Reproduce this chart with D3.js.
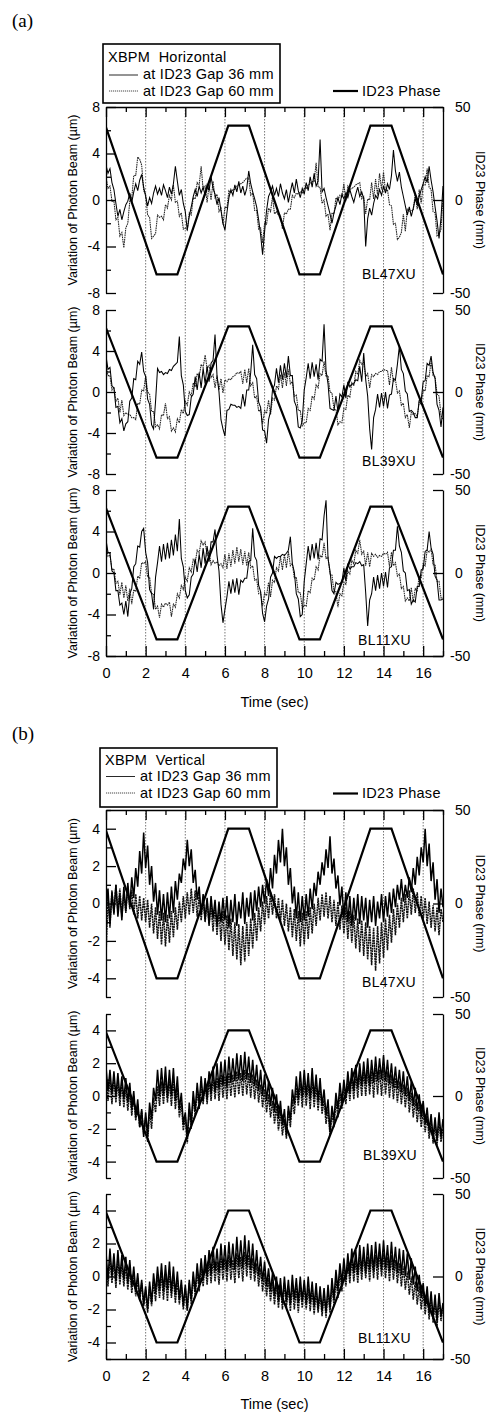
<!DOCTYPE html>
<html><head><meta charset="utf-8">
<script src="https://cdn.jsdelivr.net/npm/d3@7"></script>
<style>
html,body{margin:0;padding:0;background:#fff;}
svg{display:block;font-family:"Liberation Sans",Arial,Helvetica,sans-serif;}
</style></head><body>
<svg id="chart" width="488" height="1414"></svg>
<script>
// ---------------- DATA ----------------
const TIME_STEP = 0.1;          // sample spacing of the XBPM records (s)
const TIME_DOMAIN = [0, 17];
const X_TICKS_MAJOR = [0, 2, 4, 6, 8, 10, 12, 14, 16];
const X_TICKS_MINOR = [1, 3, 5, 7, 9, 11, 13, 15, 17];
const GRID_TIMES = [2, 4, 6, 8, 10, 12, 14, 16];
const PHASE_T = [0, 2.55, 3.6, 6.17, 7.21, 9.76, 10.79, 13.34, 14.4, 17];
const PHASE_V = [39, -40, -40, 40, 40, -40, -40, 40, 40, -40];
const PHASE_TICKS = [-50, 0, 50];
const H_Y_MAJOR = [-8, -4, 0, 4, 8];
const H_Y_MINOR = [-6, -2, 2, 6];
const V_Y_MAJOR = [-4, -2, 0, 2, 4];
const V_Y_MINOR = [-5, -3, -1, 1, 3, 5];
const BEAMLINES = ["BL47XU", "BL39XU", "BL11XU"];

// Horizontal, BL47XU
const A1_36 = [
3.0,2.3,2.7,1.5,0.9,-0.3,-1.4,-0.8,-1.7,-1.0,
-0.4,-0.1,0.6,-0.2,0.7,1.4,0.8,1.7,2.2,1.1,
0.3,-0.5,0.2,-0.3,0.6,1.2,0.5,1.0,0.4,1.3,
0.8,0.2,1.1,0.5,1.4,2.9,1.6,0.4,0.9,-0.3,
-1.0,-2.6,-1.4,-0.6,0.3,0.9,0.3,1.2,0.6,1.1,
0.4,1.3,0.8,2.0,1.0,0.5,-0.4,0.2,-0.9,-2.0,
-2.6,-1.1,0.2,0.9,0.4,1.3,0.7,1.6,0.6,1.2,
0.4,1.0,2.5,1.4,0.7,0.1,-0.6,-1.7,-3.0,-4.7,
-2.7,-0.9,0.3,0.7,1.2,0.4,1.0,0.3,1.4,0.6,
0.1,0.9,-0.2,0.7,1.5,0.6,1.8,0.8,0.2,1.0,
0.5,1.5,0.8,2.0,1.1,2.3,1.2,1.6,5.2,0.7,
1.0,0.2,-0.5,-1.2,-2.0,-1.1,-0.5,0.2,-0.4,0.5,
0.1,0.6,0.2,0.9,0.3,-0.2,0.5,1.1,0.3,0.7,
0.1,-4.0,-1.6,-0.7,-1.3,-0.3,0.4,0.1,0.9,0.4,
1.2,0.6,1.4,0.9,2.1,4.3,2.5,1.6,2.4,1.1,
0.3,-0.5,-1.3,-0.6,-1.4,-0.7,0.1,-0.4,0.3,0.9,
1.4,2.0,1.5,2.9,1.7,0.7,-0.6,-1.8,-3.3,-1.5,
1.2];
const A1_60 = [
2.0,1.0,1.2,-0.1,-0.1,-1.7,-1.5,-3.1,-2.8,-4.1,
-2.4,-2.0,-0.1,0.2,2.1,2.1,3.7,3.5,3.0,0.8,
0.5,-1.3,-1.5,-3.3,-3.1,-2.9,-1.3,-1.5,-1.4,-1.7,
-0.4,-0.7,0.4,0.0,1.3,-0.2,-0.1,-1.4,-1.1,-2.5,
-2.4,-2.6,-1.1,-1.3,0.2,0.1,1.5,1.3,2.9,0.9,
1.2,-0.2,1.3,0.0,1.6,0.2,0.5,-1.0,-0.7,-2.1,
-0.6,-0.7,0.8,0.6,0.9,0.9,1.2,1.3,1.4,1.5,
1.7,1.9,1.9,0.4,0.6,-0.9,-0.9,-2.5,-2.4,-3.7,
-2.0,-2.1,-0.7,-1.0,0.3,-1.2,-1.0,-1.3,-1.3,-2.5,
-1.1,-1.2,-0.8,-0.8,0.4,0.2,0.6,0.5,0.7,0.6,
1.0,1.0,1.3,1.4,1.6,1.6,3.2,1.1,1.1,-0.3,
0.0,-1.4,-1.2,-2.6,-1.1,-1.2,0.2,0.0,0.4,0.2,
1.4,-0.1,1.2,0.9,1.0,1.1,1.3,1.4,1.5,0.1,
0.3,-1.2,0.1,0.0,1.5,0.1,1.8,0.4,2.3,0.9,
2.4,0.7,0.9,-0.4,-0.5,-2.1,-2.0,-3.4,-3.2,-2.8,
-1.2,-2.7,-0.8,-1.0,-0.9,-0.9,0.6,-0.8,0.9,-0.3,
1.3,1.3,2.7,1.1,0.9,-1.0,-1.1,-3.1,-3.0,-2.5,
0.3];
// Horizontal, BL39XU
const A2_36 = [
3.5,2.2,2.4,0.6,0.4,-1.5,-1.4,-3.0,-2.6,-3.8,
-3.1,-2.9,-0.9,-0.6,1.3,1.2,3.0,2.7,3.9,2.0,
1.5,-0.7,-1.2,-3.2,-3.6,-0.9,2.3,1.9,2.0,1.7,
1.9,1.8,2.2,2.1,2.5,2.7,2.9,5.4,1.6,0.7,
-1.9,-2.3,-2.2,-0.5,-0.2,1.5,0.2,1.9,0.4,2.3,
0.8,2.5,1.0,2.8,3.1,5.6,1.6,0.0,-2.7,-3.6,
-4.3,-1.8,-1.7,-1.2,-1.3,-1.3,-1.5,-1.4,-1.6,-0.2,
-1.4,0.2,0.2,1.9,4.6,1.7,1.3,-1.0,-1.5,-3.7,
-3.8,-5.0,-2.7,-1.9,0.2,0.7,2.3,0.9,2.6,1.2,
2.8,1.4,3.5,1.6,1.6,-0.9,-1.4,-3.4,-3.5,-2.8,
0.2,1.4,2.8,1.3,2.9,1.5,2.7,1.2,3.2,3.0,
6.6,2.1,0.8,-1.6,-1.7,-1.8,-0.4,-1.9,-0.2,-0.5,
0.7,-0.6,1.0,0.5,0.8,0.8,1.2,1.1,2.5,1.0,
3.8,1.2,-0.4,-3.6,-5.6,-2.5,-1.7,-0.2,-1.5,-0.1,
-1.4,0.0,-1.6,-0.3,-0.2,1.3,1.2,2.7,4.5,2.2,
1.8,0.1,-0.2,-1.9,-1.8,-2.0,-2.5,-2.5,-0.8,-0.8,
1.0,1.1,2.8,2.6,3.5,1.9,1.3,-1.2,-1.8,-3.4,
-1.5];
const A2_60 = [
2.5,1.6,1.6,0.2,0.5,-0.9,-0.6,-2.0,-0.8,-2.3,
-2.0,-2.2,-2.2,-2.5,-2.5,-2.7,-1.1,-1.2,0.2,0.1,
1.6,0.0,-0.2,-1.9,-1.9,-3.4,-3.2,-3.6,-2.2,-2.3,
-1.1,-2.6,-2.4,-3.8,-3.5,-3.9,-2.6,-3.0,-1.7,-2.1,
-0.9,-1.3,0.0,-0.4,0.9,0.5,1.8,1.5,2.7,2.4,
3.6,2.3,2.6,1.4,1.7,0.4,1.6,0.2,1.3,-0.1,
1.2,1.0,1.3,1.2,1.5,1.6,1.9,1.8,2.0,0.8,
2.2,0.9,2.3,0.6,0.9,-0.6,-0.4,-1.9,-1.7,-3.1,
-1.8,-2.1,-0.8,-2.2,-0.6,-0.8,0.6,0.3,1.7,0.4,
1.9,0.6,2.2,0.8,1.0,-0.4,-0.3,-1.8,-1.8,-3.3,
-3.0,-3.0,-1.6,-1.8,-0.4,-0.7,0.7,0.4,1.8,1.6,
3.0,1.5,1.6,0.0,-0.1,-1.7,-1.7,-3.2,-2.9,-3.0,
-1.6,-1.7,-0.3,-0.5,0.9,0.6,2.0,1.7,3.1,2.7,
2.9,1.5,1.8,0.4,1.7,1.5,1.8,1.7,2.0,2.0,
2.2,2.1,2.1,0.7,2.4,1.0,1.2,-0.1,0.1,-1.3,
-1.1,-2.5,-2.2,-3.5,-2.0,-2.2,-2.1,-2.4,-1.0,-1.2,
0.2,0.1,1.6,1.5,3.0,1.6,1.5,-0.2,-0.4,-2.3,
-2.7];
// Horizontal, BL11XU
const A3_36 = [
3.2,2.0,1.9,0.2,0.0,-1.7,-1.7,-3.1,-2.9,-4.0,
-2.7,-4.2,-2.0,-1.5,0.6,0.9,2.6,2.5,4.0,4.3,
2.0,1.0,-1.6,-2.0,-3.5,-0.4,1.0,2.6,1.1,2.8,
1.3,2.9,1.4,3.2,1.7,3.7,2.1,5.2,1.4,0.6,
-1.7,-2.4,-2.1,-0.4,-0.1,1.4,0.1,1.8,0.5,2.4,
0.9,2.6,1.1,3.0,3.0,4.2,1.7,0.2,-3.0,-4.8,
-3.5,-2.3,-0.8,-2.0,-0.6,-1.9,-0.5,-2.1,-0.7,-0.9,
-0.5,-0.5,1.1,1.2,4.3,1.6,1.2,-1.2,-1.8,-3.9,
-4.7,-3.2,-2.5,-0.4,0.0,1.6,1.4,1.6,1.6,1.8,
1.7,1.9,2.2,3.5,0.9,0.1,-2.0,-2.5,-4.2,-4.0,
-0.8,0.9,2.6,1.2,2.8,1.4,2.9,1.3,3.3,3.2,
5.5,7.0,1.4,0.2,-1.7,-2.0,-0.9,-1.1,-1.0,-0.9,
0.5,-0.8,0.9,0.4,0.6,0.6,1.0,0.9,1.1,0.7,
0.8,-1.9,-5.1,-2.6,-2.0,-0.4,-1.7,-0.2,-1.5,0.0,
-1.3,0.1,-1.4,0.5,0.6,2.2,2.2,4.5,2.6,2.0,
0.2,0.0,-1.7,-1.6,-3.0,-2.6,-2.8,-1.3,-1.3,0.3,
0.4,2.1,2.2,4.0,2.4,1.8,-0.3,-0.7,-2.6,-2.6,
-2.5];
const A3_60 = [
2.6,1.6,1.7,0.3,0.4,-1.0,-0.8,-2.1,-0.9,-2.4,
-1.2,-2.7,-1.5,-3.0,-1.6,-1.8,-0.3,-0.5,1.0,0.9,
1.1,-0.4,-0.4,-2.0,-2.0,-3.5,-3.2,-4.3,-3.0,-3.3,
-2.9,-3.1,-2.8,-4.2,-3.0,-3.3,-2.0,-2.4,-1.2,-1.6,
-0.4,-0.8,0.5,0.1,1.3,1.0,2.2,1.9,3.1,2.7,
3.0,1.7,2.1,0.8,1.2,0.9,1.1,0.7,0.9,0.5,
1.8,0.4,1.9,0.6,2.2,0.9,2.5,1.1,2.3,0.8,
2.1,0.7,2.0,0.5,0.7,-0.7,-0.6,-2.0,-1.9,-3.2,
-1.9,-2.2,-0.9,-2.3,-0.7,-0.9,0.5,0.2,1.6,0.3,
1.8,0.5,2.1,0.7,0.9,-0.5,-0.4,-1.9,-1.9,-3.4,
-3.1,-3.2,-1.7,-1.9,-0.5,-0.7,0.6,0.3,1.7,1.5,
2.9,1.4,1.5,-0.1,-0.2,-1.8,-1.8,-3.3,-2.0,-2.2,
-0.9,-1.1,0.2,-0.1,1.2,0.9,2.2,1.9,3.2,1.8,
2.1,0.7,2.0,0.6,1.9,1.6,1.8,1.5,1.7,1.6,
1.9,1.8,2.0,0.6,2.0,0.7,1.0,-0.3,-0.1,-1.5,
-1.3,-2.7,-2.4,-2.7,-1.4,-2.8,-1.5,-1.7,-0.3,-0.5,
0.9,0.7,2.2,2.0,2.3,0.8,0.8,-0.8,-0.8,-2.4,
-2.4];
// Vertical, BL47XU
const B1_36 = [
-0.2,0.8,-1.1,0.6,-0.5,1.0,-0.7,0.5,-0.9,0.9,
-0.4,1.1,-0.2,1.4,0.3,1.9,0.9,2.8,1.6,3.8,
1.9,3.1,1.0,2.0,0.1,1.1,-0.6,0.7,-0.9,0.5,
-1.0,0.6,-0.8,0.9,-0.5,1.2,0.2,1.6,1.1,2.4,
1.8,3.4,2.0,2.9,1.1,1.8,0.2,0.9,-0.6,0.5,
-0.9,0.3,-1.1,0.4,-0.8,0.2,-1.2,0.1,-1.0,0.3,
-0.9,0.4,-1.3,0.2,-1.0,0.5,-1.2,0.1,-0.8,0.6,
-1.1,0.3,-0.7,0.6,-0.9,0.7,-0.4,0.9,-0.2,1.0,
0.0,1.3,0.4,1.9,0.8,2.6,1.6,3.4,2.2,4.0,
2.0,3.0,1.0,1.9,0.0,0.9,-0.8,0.6,-1.0,0.4,
-0.9,0.5,-0.7,0.8,-0.3,1.1,0.4,1.7,1.0,2.2,
1.5,2.9,1.9,3.6,1.6,2.4,0.8,1.5,-0.1,0.9,
-0.8,0.6,-1.0,0.4,-1.2,0.3,-0.9,0.5,-1.1,0.4,
-0.9,0.3,-1.3,0.2,-1.0,0.4,-1.2,0.1,-0.8,0.5,
-1.0,0.4,-0.7,0.6,-0.5,0.8,-0.2,1.0,0.2,1.3,
0.1,1.0,0.3,1.4,0.6,1.9,1.0,2.5,1.5,3.0,
2.2,4.0,2.0,3.2,1.2,2.2,0.2,1.3,-0.5,0.8,
-0.2];
const B1_60 = [
-2.8,0.4,-1.3,0.7,-0.6,1.0,-0.4,0.8,-0.7,0.6,
-0.5,0.9,-0.3,0.7,-0.6,0.5,-0.8,0.4,-0.9,0.3,
-1.0,0.2,-1.3,0.0,-1.6,-0.2,-1.9,-0.4,-2.2,-0.5,
-2.3,-0.6,-2.1,-0.4,-1.8,-0.2,-1.4,0.1,-1.0,0.4,
-0.8,0.6,-0.6,0.8,-0.5,0.7,-0.7,0.5,-0.9,0.3,
-1.0,0.2,-1.2,0.0,-1.5,-0.1,-1.7,-0.3,-2.0,-0.4,
-2.2,-0.6,-2.5,-0.8,-2.8,-1.0,-3.0,-1.1,-3.3,-1.2,
-3.1,-1.0,-2.8,-0.8,-2.4,-0.5,-2.0,-0.2,-1.5,0.1,
-1.1,0.4,-0.8,0.6,-0.6,0.5,-0.8,0.3,-1.0,0.2,
-1.2,0.0,-1.5,-0.2,-1.8,-0.3,-2.0,-0.4,-2.3,-0.5,
-2.2,-0.4,-1.9,-0.2,-1.6,0.0,-1.2,0.3,-0.9,0.5,
-0.7,0.6,-0.8,0.4,-1.0,0.2,-1.2,0.1,-1.4,-0.1,
-1.6,-0.2,-1.9,-0.4,-2.1,-0.6,-2.4,-0.8,-2.6,-0.9,
-2.8,-1.0,-3.0,-1.2,-3.3,-1.3,-3.6,-1.2,-3.2,-1.0,
-2.9,-0.8,-2.5,-0.6,-2.1,-0.3,-1.7,0.0,-1.3,0.3,
-1.0,0.5,-0.8,0.7,-0.6,0.8,-0.5,0.6,-0.7,0.4,
-0.9,0.3,-1.1,0.1,-1.3,-0.1,-1.5,-0.2,-1.7,-0.3,
-1.0];
// Vertical, BL39XU
const B2_36 = [
1.8,0.3,1.6,0.1,1.5,0.0,1.4,-0.1,1.2,-0.2,
1.1,-0.4,0.8,-0.8,0.3,-1.3,-0.2,-1.9,-0.8,-2.5,
-1.0,-2.4,-0.4,-1.4,0.5,-0.3,1.6,0.0,1.7,0.1,
1.8,-0.1,1.6,0.0,1.7,-0.3,1.2,-0.8,0.2,-1.7,
-1.0,-2.6,-0.4,-1.7,0.3,-0.9,0.8,-0.5,1.2,-0.3,
1.1,-0.2,1.5,0.1,1.8,0.2,2.0,0.4,2.1,0.6,
2.2,0.5,2.4,0.8,2.3,0.9,2.6,1.0,2.5,0.9,
2.7,1.0,2.4,0.8,2.2,0.6,1.9,0.3,1.6,0.0,
1.3,-0.3,0.9,-0.6,0.5,-1.0,0.1,-1.4,-0.3,-1.8,
-0.8,-2.4,-0.6,-1.5,0.4,-0.5,1.2,-0.2,1.5,-0.1,
1.6,0.0,1.4,-0.2,1.7,-0.1,1.3,-0.3,1.1,-0.6,
0.4,-1.2,-0.2,-2.2,-0.6,-1.5,0.2,-0.8,0.8,-0.4,
1.0,-0.1,1.5,0.2,1.7,0.3,1.9,0.5,2.0,0.6,
2.1,0.7,2.3,0.6,2.2,0.8,2.4,0.9,2.3,1.0,
2.5,0.9,2.2,0.7,2.0,0.5,1.8,0.4,1.6,0.2,
1.5,0.0,1.2,-0.3,0.9,-0.6,0.5,-0.9,0.1,-1.3,
-0.3,-1.7,-0.7,-2.1,-1.1,-2.6,-1.3,-2.7,-1.0,-2.5,
-1.4];
const B2_60 = [
1.2,-0.3,1.0,-0.5,1.1,-0.4,0.9,-0.6,0.8,-0.7,
0.6,-0.9,0.3,-1.2,0.0,-1.5,-0.5,-1.9,-0.9,-2.3,
-1.3,-2.8,-0.9,-2.0,-0.1,-1.0,0.6,-0.6,0.9,-0.5,
1.1,-0.4,0.9,-0.6,1.0,-0.8,0.5,-1.3,-0.4,-2.1,
-1.2,-2.9,-0.8,-2.0,-0.1,-1.2,0.4,-0.8,0.7,-0.5,
0.8,-0.5,1.0,-0.3,1.2,-0.2,1.1,-0.3,1.3,-0.1,
1.2,-0.2,1.4,0.0,1.3,-0.1,1.5,0.1,1.4,0.0,
1.6,0.1,1.4,-0.1,1.3,-0.2,1.0,-0.4,0.7,-0.7,
0.4,-1.0,0.1,-1.3,-0.3,-1.7,-0.6,-2.1,-1.0,-2.4,
-1.4,-2.6,-0.9,-1.9,-0.2,-1.1,0.5,-0.6,0.8,-0.7,
0.9,-0.6,0.8,-0.8,1.0,-0.7,0.7,-0.9,0.5,-1.1,
-0.2,-1.7,-0.8,-2.4,-1.0,-1.9,-0.3,-1.3,0.2,-0.8,
0.6,-0.5,1.0,-0.3,1.2,-0.2,1.3,-0.1,1.4,0.0,
1.5,0.0,1.6,0.1,1.5,-0.1,1.7,0.1,1.6,0.0,
1.8,0.1,1.5,-0.1,1.3,-0.2,1.1,-0.4,0.9,-0.5,
0.7,-0.7,0.5,-1.0,0.2,-1.3,-0.2,-1.6,-0.5,-1.9,
-0.9,-2.2,-1.2,-2.6,-1.5,-2.9,-1.7,-3.0,-1.6,-2.8,
-2.0];
// Vertical, BL11XU
const B3_36 = [
1.5,-0.2,1.7,0.0,1.4,-0.3,1.6,-0.1,1.3,-0.2,
1.2,-0.4,1.0,-0.6,0.6,-0.9,0.2,-1.3,-0.2,-1.7,
-0.6,-2.0,-0.3,-1.6,0.2,-1.0,0.6,-0.8,0.8,-0.9,
0.7,-0.8,0.9,-1.0,0.6,-1.1,0.3,-1.4,-0.2,-1.8,
-0.5,-2.0,-0.2,-1.4,0.3,-0.9,0.8,-0.5,1.1,-0.2,
1.3,0.0,1.6,0.1,1.8,0.3,1.7,0.2,2.0,0.4,
1.9,0.3,2.1,0.5,2.0,0.4,2.4,0.6,2.2,0.5,
2.5,0.6,2.2,0.4,2.0,0.2,1.6,0.0,1.2,-0.3,
0.9,-0.6,0.5,-0.9,0.2,-1.2,0.0,-1.5,-0.1,-1.6,
0.0,-1.5,-0.2,-1.7,0.1,-1.4,-0.1,-1.6,0.0,-1.5,
-0.2,-1.7,0.0,-1.6,-0.3,-1.8,-0.4,-2.0,-0.6,-2.1,
-0.7,-2.2,-0.5,-1.9,-0.1,-1.4,0.4,-0.8,0.8,-0.4,
1.1,-0.2,1.4,0.0,1.7,0.2,1.6,0.1,1.9,0.3,
1.8,0.2,2.0,0.4,1.9,0.3,2.1,0.5,2.0,0.4,
2.2,0.5,1.9,0.3,2.1,0.4,1.8,0.2,1.7,0.1,
1.6,0.0,1.4,-0.2,1.1,-0.5,0.6,-0.9,0.1,-1.3,
-0.4,-1.8,-0.6,-2.2,-0.9,-2.5,-1.1,-2.7,-1.0,-2.4,
-1.6];
const B3_60 = [
1.0,-0.6,1.2,-0.4,0.9,-0.7,1.1,-0.5,0.8,-0.6,
0.7,-0.8,0.5,-1.0,0.2,-1.2,-0.1,-1.5,-0.4,-1.8,
-0.8,-2.2,-0.6,-1.8,-0.3,-1.5,0.0,-1.3,0.2,-1.4,
0.1,-1.5,0.3,-1.3,0.0,-1.6,-0.2,-1.7,-0.5,-2.0,
-0.7,-2.1,-0.4,-1.7,0.0,-1.2,0.3,-0.9,0.6,-0.6,
0.8,-0.5,1.0,-0.4,1.1,-0.3,0.9,-0.5,1.2,-0.2,
1.1,-0.3,1.3,-0.2,1.0,-0.4,1.4,-0.1,1.2,-0.3,
1.5,0.0,1.3,-0.2,1.1,-0.3,0.8,-0.6,0.5,-0.9,
0.2,-1.2,-0.1,-1.5,-0.3,-1.7,-0.4,-1.9,-0.5,-2.0,
-0.4,-1.9,-0.6,-2.1,-0.5,-2.0,-0.7,-2.2,-0.6,-1.9,
-0.5,-2.0,-0.7,-2.1,-0.8,-2.3,-0.9,-2.2,-1.0,-2.4,
-1.1,-2.5,-0.9,-2.2,-0.5,-1.8,-0.1,-1.3,0.3,-0.9,
0.6,-0.6,0.9,-0.4,1.1,-0.3,1.0,-0.4,1.2,-0.2,
1.3,-0.1,1.2,-0.3,1.4,-0.1,1.3,-0.2,1.5,0.0,
1.4,-0.1,1.2,-0.3,1.3,-0.2,1.0,-0.4,0.8,-0.6,
0.6,-0.8,0.3,-1.1,0.0,-1.4,-0.3,-1.7,-0.6,-2.0,
-0.9,-2.3,-1.1,-2.6,-1.3,-2.8,-1.5,-3.0,-1.4,-2.7,
-1.8];

// ---------------- LAYOUT ----------------
const X_RANGE = [106, 443];
const PANELS = [
  { tag: "(a)", tagY: 27, title: "XBPM  Horizontal",
    box: { x: 103, y: 44, w: 177, h: 59 }, titleX: 108, titleY: 62,
    legLine: [109, 138], legTextX: 143, row2Y: 79, row3Y: 95.5, line2Y: 75, line3Y: 91,
    phaseTextY: 95.5, phaseLineY: 91,
    yDomain: [-8, 8], yMajor: H_Y_MAJOR, yMinor: H_Y_MINOR, timeTitleY: 707,
    dataW: 1.05, dotColor: "#222", dash: "1.6,0.7",
    subs: [
      { top: 107, bottom: 293, s36: A1_36, s60: A1_60, nameX: 362, nameY: 279 },
      { top: 310, bottom: 474, s36: A2_36, s60: A2_60, nameX: 362, nameY: 466 },
      { top: 490, bottom: 656, s36: A3_36, s60: A3_60, nameX: 358, nameY: 645 } ] },
  { tag: "(b)", tagY: 740, title: "XBPM  Vertical",
    box: { x: 100, y: 748, w: 177, h: 59 }, titleX: 105, titleY: 765,
    legLine: [106, 135], legTextX: 140, row2Y: 781, row3Y: 797.5, line2Y: 776.5, line3Y: 793,
    phaseTextY: 798, phaseLineY: 793.5,
    yDomain: [-5, 5], yMajor: V_Y_MAJOR, yMinor: V_Y_MINOR, timeTitleY: 1409,
    dataW: 1.5, dotColor: "#111", dash: "2,0.6",
    subs: [
      { top: 810, bottom: 997, s36: B1_36, s60: B1_60, nameX: 362, nameY: 987 },
      { top: 1014, bottom: 1178, s36: B2_36, s60: B2_60, nameX: 363, nameY: 1160 },
      { top: 1194, bottom: 1359, s36: B3_36, s60: B3_60, nameX: 358, nameY: 1343 } ] }
];

const svg = d3.select("#chart");
const AXW = 1.3;
const fmt = d => String(d);

function styleAxis(g, size) {
  g.attr("font-family", null).attr("font-size", size);
  g.selectAll("path,line").attr("stroke", "#000").attr("stroke-width", AXW);
  g.selectAll("text").attr("fill", "#000");
}

PANELS.forEach((P, pi) => {
  const x = d3.scaleLinear().domain(TIME_DOMAIN).range(X_RANGE);
  const top = P.subs[0].top, bottom = P.subs[2].bottom;

  svg.append("text").attr("x", 12).attr("y", P.tagY)
    .attr("font-family", "'Liberation Serif','Times New Roman',serif").attr("font-size", 19)
    .text(P.tag);

  svg.append("g").selectAll("line").data(GRID_TIMES).join("line")
    .attr("x1", d => x(d)).attr("x2", d => x(d)).attr("y1", top).attr("y2", bottom)
    .attr("stroke", "#555").attr("stroke-width", 0.8).attr("stroke-dasharray", "1.5,1.5");

  P.subs.forEach((S, si) => {
    const y = d3.scaleLinear().domain(P.yDomain).range([S.bottom, S.top]);
    const yR = d3.scaleLinear().domain([-50, 50]).range([S.bottom, S.top]);
    const cid = `clip${pi}_${si}`;
    svg.append("clipPath").attr("id", cid).append("rect")
      .attr("x", X_RANGE[0]).attr("y", S.top).attr("width", X_RANGE[1] - X_RANGE[0]).attr("height", S.bottom - S.top);
    const g = svg.append("g").attr("clip-path", `url(#${cid})`);
    const line = d3.line().x((d, i) => x(i * TIME_STEP)).y(d => y(d));
    g.append("path").datum(S.s60).attr("d", line).attr("fill", "none")
      .attr("stroke", P.dotColor).attr("stroke-width", P.dataW).attr("stroke-dasharray", P.dash);
    g.append("path").datum(S.s36).attr("d", line).attr("fill", "none")
      .attr("stroke", "#000").attr("stroke-width", P.dataW);
    const pline = d3.line().x((d, i) => x(PHASE_T[i])).y(d => yR(d));
    g.append("path").datum(PHASE_V).attr("d", pline).attr("fill", "none")
      .attr("stroke", "#000").attr("stroke-width", 2.2).attr("stroke-linejoin", "miter");

    const gl = svg.append("g").attr("transform", `translate(${X_RANGE[0]},0)`)
      .call(d3.axisLeft(y).tickValues(P.yMajor).tickSize(-10).tickSizeOuter(0).tickPadding(6).tickFormat(fmt));
    styleAxis(gl, 14);
    const glm = svg.append("g").attr("transform", `translate(${X_RANGE[0]},0)`)
      .call(d3.axisLeft(y).tickValues(P.yMinor).tickSize(-5).tickSizeOuter(0).tickFormat(""));
    styleAxis(glm, 14); glm.select(".domain").remove();

    const gr = svg.append("g").attr("transform", `translate(${X_RANGE[1]},0)`)
      .call(d3.axisRight(yR).tickValues(PHASE_TICKS).tickSize(-10).tickSizeOuter(0).tickPadding(12).tickFormat(fmt));
    styleAxis(gr, 14);
    gr.selectAll(".tick text").attr("x", d => d < 0 ? 7 : 12);

    if (si === 0) {
      const gt = svg.append("g").attr("transform", `translate(0,${S.top})`)
        .call(d3.axisTop(x).tickValues(X_TICKS_MAJOR).tickSize(-10).tickSizeOuter(0).tickFormat(""));
      styleAxis(gt, 14);
      const gtm = svg.append("g").attr("transform", `translate(0,${S.top})`)
        .call(d3.axisTop(x).tickValues(X_TICKS_MINOR).tickSize(-5).tickSizeOuter(0).tickFormat(""));
      styleAxis(gtm, 14); gtm.select(".domain").remove();
    }
    if (si === 2) {
      const gb = svg.append("g").attr("transform", `translate(0,${S.bottom})`)
        .call(d3.axisBottom(x).tickValues(X_TICKS_MAJOR).tickSize(-10).tickSizeOuter(0).tickPadding(12).tickFormat(fmt));
      styleAxis(gb, 14.5);
      const gbm = svg.append("g").attr("transform", `translate(0,${S.bottom})`)
        .call(d3.axisBottom(x).tickValues(X_TICKS_MINOR).tickSize(-5).tickSizeOuter(0).tickFormat(""));
      styleAxis(gbm, 14); gbm.select(".domain").remove();
    }

    svg.append("text").attr("x", S.nameX).attr("y", S.nameY)
      .attr("font-size", 14).attr("letter-spacing", 0.3).text(BEAMLINES[si]);

    const cy = (S.top + S.bottom) / 2;
    svg.append("text").attr("transform", `translate(73,${cy}) rotate(-90)`)
      .attr("text-anchor", "middle").attr("dy", "0.35em").attr("font-size", 12.5)
      .text("Variation of Photon Beam (µm)");
    svg.append("text").attr("transform", `translate(480,${cy}) rotate(90)`)
      .attr("text-anchor", "middle").attr("dy", "0.35em").attr("font-size", 12.5)
      .text("ID23 Phase (mm)");
  });

  svg.append("text").attr("x", (X_RANGE[0] + X_RANGE[1]) / 2).attr("y", P.timeTitleY)
    .attr("text-anchor", "middle").attr("font-size", 14.5).text("Time (sec)");

  const L = svg.append("g");
  L.append("rect").attr("x", P.box.x).attr("y", P.box.y).attr("width", P.box.w).attr("height", P.box.h)
    .attr("fill", "#fff").attr("stroke", "#000").attr("stroke-width", 1.6);
  L.append("text").attr("x", P.titleX).attr("y", P.titleY).attr("font-size", 14.5)
    .attr("letter-spacing", 0.25).style("white-space", "pre").text(P.title);
  L.append("line").attr("x1", P.legLine[0]).attr("x2", P.legLine[1]).attr("y1", P.line2Y).attr("y2", P.line2Y)
    .attr("stroke", "#111").attr("stroke-width", 0.9);
  L.append("line").attr("x1", P.legLine[0]).attr("x2", P.legLine[1]).attr("y1", P.line3Y).attr("y2", P.line3Y)
    .attr("stroke", "#333").attr("stroke-width", 0.9).attr("stroke-dasharray", "1.2,0.8");
  L.append("text").attr("x", P.legTextX).attr("y", P.row2Y).attr("font-size", 14.5)
    .attr("letter-spacing", 0.25).text("at ID23 Gap 36 mm");
  L.append("text").attr("x", P.legTextX).attr("y", P.row3Y).attr("font-size", 14.5)
    .attr("letter-spacing", 0.25).text("at ID23 Gap 60 mm");

  svg.append("line").attr("x1", 333).attr("x2", 358).attr("y1", P.phaseLineY).attr("y2", P.phaseLineY)
    .attr("stroke", "#000").attr("stroke-width", 2.2);
  svg.append("text").attr("x", 362).attr("y", P.phaseTextY).attr("font-size", 14.5)
    .attr("letter-spacing", 0.3).text("ID23 Phase");
});
</script>
</body></html>
